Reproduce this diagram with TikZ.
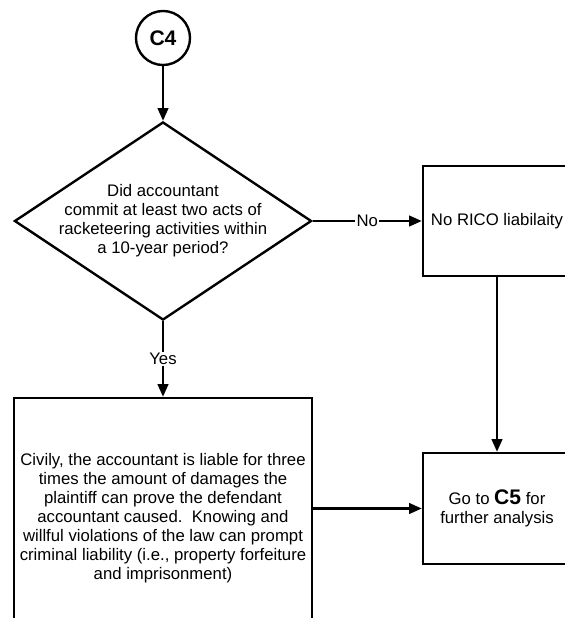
\documentclass[tikz,border=0pt]{standalone}
\usepackage{fontspec}
\setmainfont{Liberation Sans}
\usetikzlibrary{shapes.geometric,arrows.meta}

\begin{document}
\begin{tikzpicture}[x=0.025cm,y=-0.025cm,
  every node/.style={font=\fontsize{11.9}{13.5}\selectfont},
  flow/.style={draw,line width=1.7pt},
  link/.style={line width=1.7pt,-{Triangle[length=9pt,width=7.5pt]}},
  box/.style={flow,rectangle,align=center,minimum width=3.7cm},
  tag/.style={fill=white,inner sep=1pt}]
\path[use as bounding box,clip] (0,0) rectangle (565,618);
\node[flow,circle,minimum size=1.35cm,inner sep=0pt,font=\fontsize{15}{15}\selectfont\bfseries] (c4) at (163,38) {C4};
\node[flow,diamond,minimum width=7.425cm,minimum height=4.95cm,inner sep=0pt] (q) at (163,221) {};
\node[align=center] (qtext) at (q.center) {Did accountant\\commit at least two acts of\\racketeering activities within\\a 10-year period?};
\node[box,minimum height=2.75cm] (norico) at (497,221) {No RICO liabilaity};
\node[box,minimum width=7.45cm,minimum height=6cm] (civil) at (163,518) {Civily, the accountant is liable for three\\times the amount of damages the\\plaintiff can prove the defendant\\accountant caused.\ \ Knowing and\\willful violations of the law can prompt\\criminal liability (i.e., property forfeiture\\and imprisonment)};
\node[box,minimum height=2.775cm] (goto) at (497,508.5) {Go to {\fontsize{15}{15}\selectfont\bfseries C5} for\\further analysis};
\draw[link] (c4) -- (q);
\draw[link] (q) -- node[tag] (no) {No} (norico);
\draw[link] (norico) -- (goto);
\draw[link] (q) -- node[tag] (yes) {Yes} (civil);
\draw[link] (civil.east |- goto.west) -- (goto.west);
\end{tikzpicture}
\end{document}
